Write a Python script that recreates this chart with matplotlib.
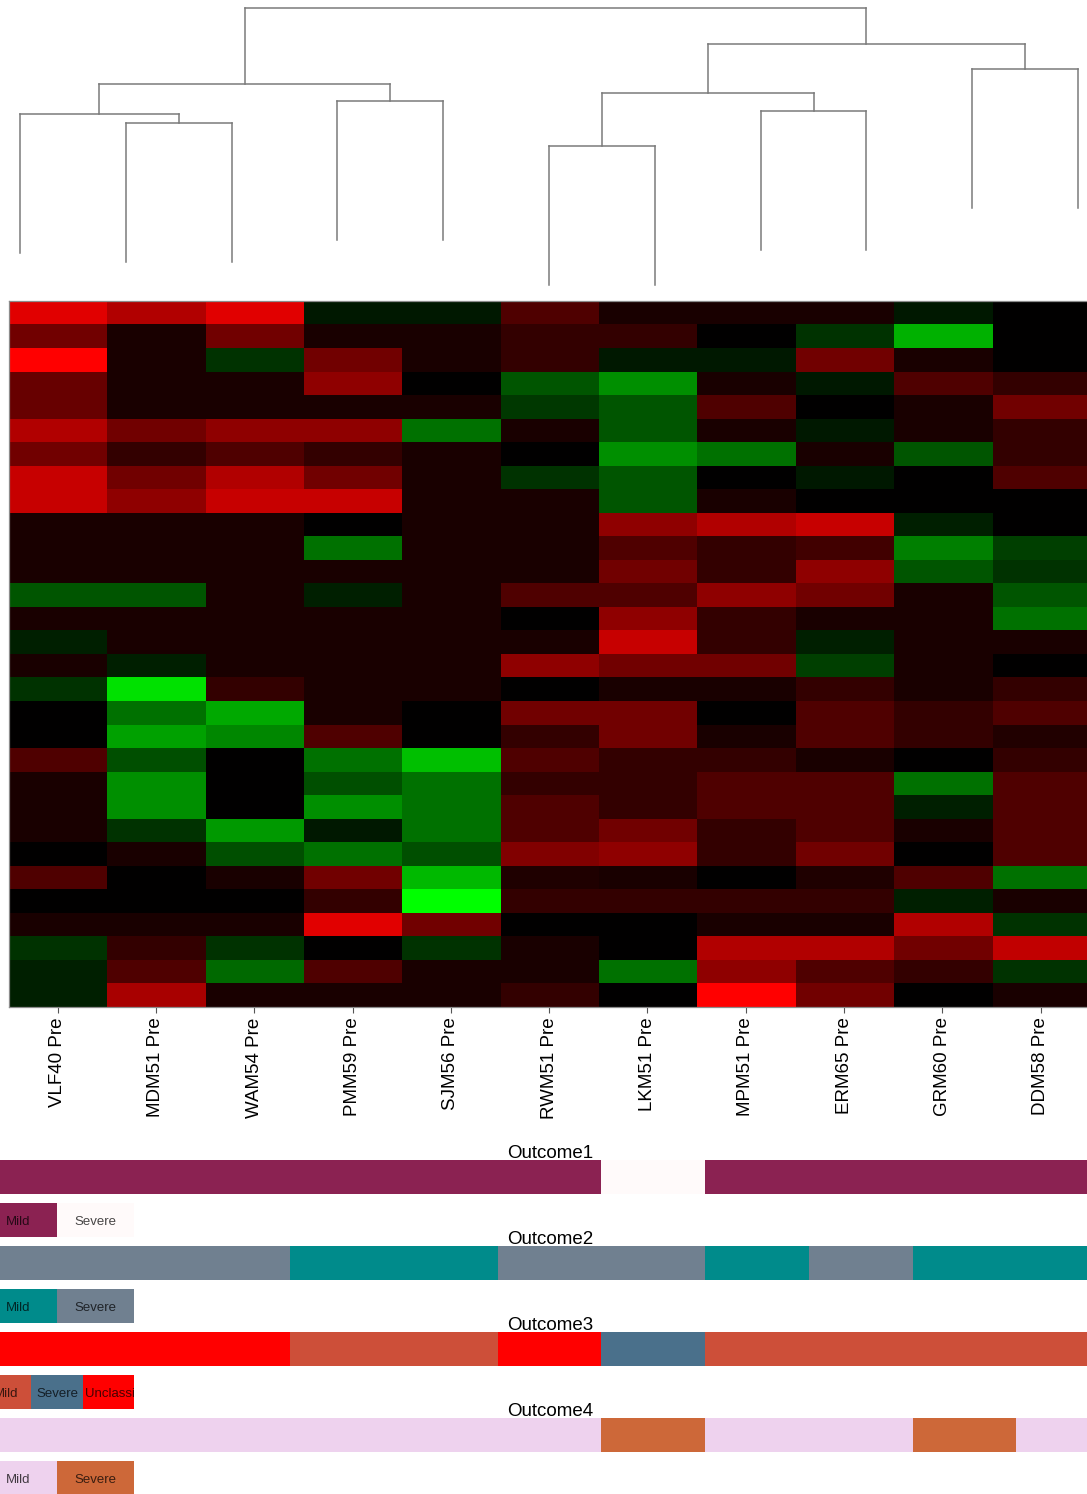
import matplotlib
matplotlib.use("Agg")
import matplotlib.pyplot as plt
import numpy as np
from matplotlib.colors import LinearSegmentedColormap
from matplotlib import font_manager

plt.rcParams["font.family"] = ["Liberation Sans", "DejaVu Sans"]

# samples in dendrogram / heatmap order
samples = ["VLF40 Pre", "MDM51 Pre", "WAM54 Pre", "PMM59 Pre", "SJM56 Pre", "RWM51 Pre",
           "LKM51 Pre", "MPM51 Pre", "ERM65 Pre", "GRM60 Pre", "DDM58 Pre"]

# clustering merges: (left node, right node, height); leaves are 0..10, new nodes 11, 12, ...
merges = [
    (5, 6, 1.46),
    (1, 2, 1.69),
    (0, 12, 1.78),
    (7, 8, 1.81),
    (3, 4, 1.91),
    (11, 14, 1.99),
    (13, 15, 2.08),
    (9, 10, 2.23),
    (16, 18, 2.48),
    (17, 19, 2.845),
]
hang = 1.385

# expression values (rows top to bottom, one value per sample)
expr_rows = [
    [0.88, 0.69, 0.88, -0.10, -0.10, 0.31, 0.10, 0.10, 0.10, -0.10, 0.00],
    [0.44, 0.10, 0.44, 0.10, 0.10, 0.20, 0.20, 0.00, -0.20, -0.69, 0.00],
    [1.00, 0.10, -0.20, 0.44, 0.10, 0.20, -0.10, -0.10, 0.44, 0.10, 0.00],
    [0.40, 0.10, 0.10, 0.56, 0.00, -0.33, -0.56, 0.10, -0.10, 0.31, 0.20],
    [0.40, 0.10, 0.10, 0.10, 0.10, -0.22, -0.33, 0.31, 0.00, 0.10, 0.44],
    [0.69, 0.44, 0.56, 0.56, -0.44, 0.10, -0.33, 0.10, -0.10, 0.10, 0.20],
    [0.44, 0.20, 0.31, 0.20, 0.10, 0.00, -0.56, -0.44, 0.10, -0.33, 0.20],
    [0.78, 0.44, 0.69, 0.44, 0.10, -0.20, -0.33, 0.00, -0.10, 0.00, 0.31],
    [0.78, 0.56, 0.78, 0.78, 0.10, 0.10, -0.33, 0.10, 0.00, 0.00, 0.00],
    [0.10, 0.10, 0.10, 0.00, 0.10, 0.10, 0.56, 0.69, 0.78, -0.12, 0.00],
    [0.10, 0.10, 0.10, -0.44, 0.10, 0.10, 0.31, 0.20, 0.25, -0.50, -0.25],
    [0.10, 0.10, 0.10, 0.10, 0.10, 0.10, 0.44, 0.20, 0.56, -0.33, -0.20],
    [-0.33, -0.33, 0.10, -0.12, 0.10, 0.31, 0.31, 0.56, 0.44, 0.10, -0.33],
    [0.10, 0.10, 0.10, 0.10, 0.10, 0.00, 0.56, 0.20, 0.10, 0.10, -0.44],
    [-0.12, 0.10, 0.10, 0.10, 0.10, 0.10, 0.78, 0.20, -0.12, 0.10, 0.10],
    [0.10, -0.12, 0.10, 0.10, 0.10, 0.56, 0.44, 0.44, -0.25, 0.10, 0.00],
    [-0.20, -0.88, 0.20, 0.10, 0.10, 0.00, 0.10, 0.10, 0.20, 0.10, 0.20],
    [0.00, -0.44, -0.66, 0.10, 0.00, 0.44, 0.44, 0.00, 0.31, 0.20, 0.31],
    [0.00, -0.63, -0.53, 0.31, 0.00, 0.20, 0.44, 0.10, 0.31, 0.20, 0.13],
    [0.31, -0.31, 0.00, -0.44, -0.75, 0.31, 0.20, 0.20, 0.10, 0.00, 0.20],
    [0.10, -0.56, 0.00, -0.31, -0.44, 0.20, 0.20, 0.31, 0.31, -0.44, 0.31],
    [0.10, -0.56, 0.00, -0.56, -0.44, 0.31, 0.20, 0.31, 0.31, -0.12, 0.31],
    [0.10, -0.20, -0.60, -0.10, -0.44, 0.31, 0.44, 0.20, 0.31, 0.10, 0.31],
    [0.00, 0.10, -0.31, -0.44, -0.31, 0.50, 0.56, 0.20, 0.44, 0.00, 0.31],
    [0.31, 0.00, 0.10, 0.44, -0.72, 0.12, 0.10, 0.00, 0.12, 0.31, -0.44],
    [0.00, 0.00, 0.00, 0.20, -1.00, 0.20, 0.20, 0.20, 0.20, -0.12, 0.10],
    [0.10, 0.10, 0.10, 0.88, 0.44, 0.00, 0.00, 0.10, 0.10, 0.69, -0.20],
    [-0.20, 0.20, -0.20, 0.00, -0.20, 0.10, 0.00, 0.69, 0.69, 0.44, 0.75],
    [-0.12, 0.31, -0.41, 0.31, 0.10, 0.10, -0.44, 0.56, 0.31, 0.20, -0.20],
    [-0.12, 0.66, 0.10, 0.10, 0.10, 0.20, 0.00, 1.00, 0.44, 0.00, 0.10],
]

# clinical annotation tracks
outcome_names = ["Outcome1", "Outcome2", "Outcome3", "Outcome4"]
outcome1 = ["Mild"] * 6 + ["Severe"] + ["Mild"] * 4
outcome2 = ["Severe"] * 3 + ["Mild"] * 2 + ["Severe"] * 2 + ["Mild", "Severe", "Mild", "Mild"]
outcome3 = ["Unclassified"] * 3 + ["Mild"] * 2 + ["Unclassified", "Severe"] + ["Mild"] * 4
outcome4 = ["Mild"] * 6 + ["Severe", "Mild", "Mild", "Severe", "Mild"]
outcome_levels = [["Mild", "Severe"], ["Mild", "Severe"], ["Mild", "Severe", "Unclassified"], ["Mild", "Severe"]]
outcome_colors = [
    {"Mild": "#8B2252", "Severe": "#FFFAFA"},
    {"Mild": "#008B8B", "Severe": "#708090"},
    {"Mild": "#CD4F39", "Severe": "#4A708B", "Unclassified": "#FF0000"},
    {"Mild": "#EED2EE", "Severe": "#CD6839"},
]
outcomes = [outcome1, outcome2, outcome3, outcome4]

W, H = 1087, 1494
fig = plt.figure(figsize=(W / 100, H / 100), dpi=100)


def px_axes(x0, y0, w, h):
    # pixel box (top-left origin) -> figure axes
    return fig.add_axes([x0 / W, 1 - (y0 + h) / H, w / W, h / H])


# ---- dendrogram ----
ax_d = px_axes(0, 0, W, 300)
n = len(samples)
node_x = list(range(n))
node_h = [None] * n
for a, b, h in merges:
    xa, xb = node_x[a], node_x[b]
    ax_d.plot([xa, xb], [h, h], color="#7a7a7a", lw=1.1)
    for c, xc in ((a, xa), (b, xb)):
        low = h - hang if node_h[c] is None else node_h[c]
        ax_d.plot([xc, xc], [h, low], color="#7a7a7a", lw=1.1)
    node_x.append((xa + xb) / 2)
    node_h.append(h)
ax_d.set_xlim(-20 / 105.8, (W - 20) / 105.8)
ax_d.set_ylim(-0.08, 2.92)
ax_d.axis("off")

# ---- heatmap ----
cmap = LinearSegmentedColormap.from_list("gbr", ["#00ff00", "#000000", "#ff0000"])
ax_h = px_axes(8.5, 301, 98.3 * n, 706)
ax_h.imshow(np.array(expr_rows), cmap=cmap, vmin=-1, vmax=1, aspect="auto", interpolation="nearest")
ax_h.set_xticks(range(n))
ax_h.set_xticklabels(samples, rotation=90, fontsize=13.5, va="top")
ax_h.set_yticks([])
ax_h.tick_params(axis="x", length=4, width=0.8, color="#555555", pad=3.5)
for s in ax_h.spines.values():
    s.set_color("#8c8c8c")
    s.set_linewidth(0.9)

# legend font: narrow if available
names = {f.name for f in font_manager.fontManager.ttflist}
if "Liberation Sans Narrow" in names:
    leg_family, leg_size = "Liberation Sans Narrow", 11
else:
    leg_family, leg_size = "Liberation Sans", 9.5

# ---- annotation tracks ----
unit = 103.7
for k, (name, vals) in enumerate(zip(outcome_names, outcomes)):
    top = 1160 + 86 * k
    ax_o = px_axes(0, top, W, 33.5)
    cols = [outcome_colors[k][v] for v in vals]
    ax_o.bar(range(n), [1] * n, width=1.0, color=cols, edgecolor="none")
    ax_o.set_xlim(-0.3, W / unit - 0.3)
    ax_o.set_ylim(0, 1)
    ax_o.axis("off")
    ax_o.text(550 / W, 1 + 2 / 33.5, name, transform=ax_o.transAxes,
              ha="center", va="baseline", fontsize=13.5)

    levels = outcome_levels[k]
    ax_l = px_axes(-20, top + 43, 154, 33.5)
    bars = ax_l.bar(range(len(levels)), [1] * len(levels), width=1.0,
                    color=[outcome_colors[k][v] for v in levels], edgecolor="none")
    ax_l.set_xlim(-0.5, len(levels) - 0.5)
    ax_l.set_ylim(0, 1)
    ax_l.axis("off")
    for i, (lv, patch) in enumerate(zip(levels, bars)):
        # long labels start at the box edge and are cut by it
        if len(lv) > 8:
            xpos, ha = i - 0.45, "left"
        else:
            xpos, ha = i, "center"
        t = ax_l.text(xpos, 0.42, lv, ha=ha, va="center", family=leg_family,
                      fontsize=leg_size, color="black", alpha=0.72, clip_on=True)
        t.set_clip_path(patch)

fig.savefig("out.png", dpi=100)
